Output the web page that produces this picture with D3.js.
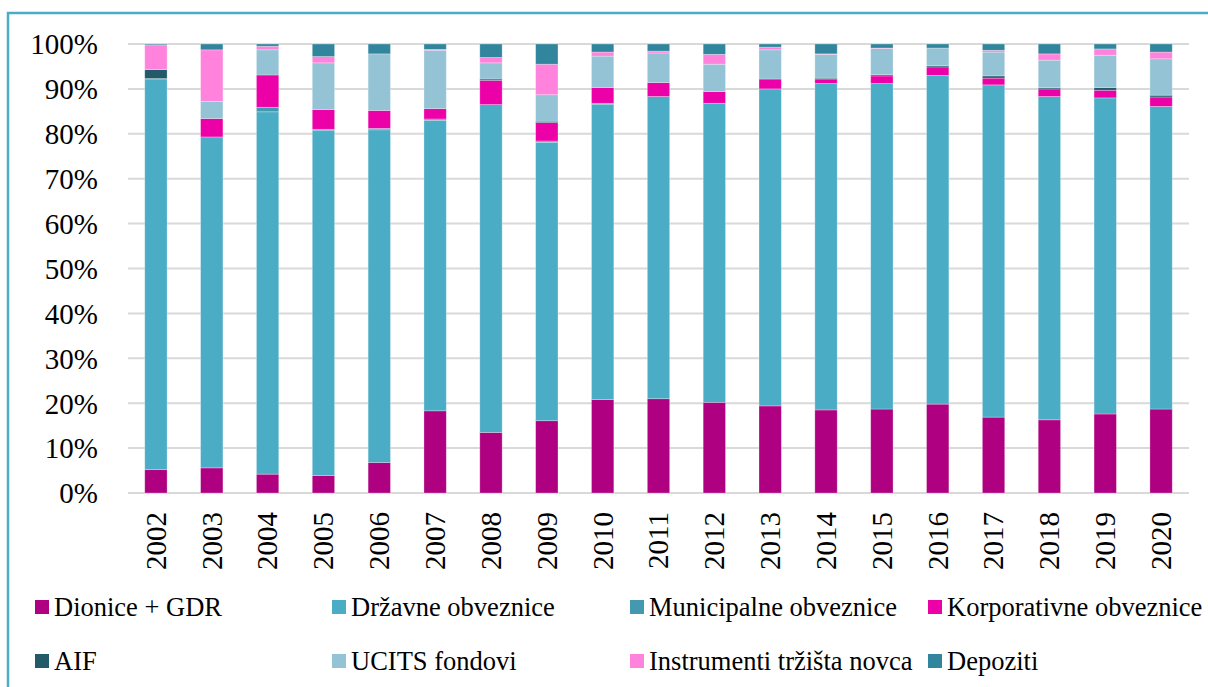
<!DOCTYPE html>
<html>
<head>
<meta charset="utf-8">
<script src="https://cdn.jsdelivr.net/npm/d3@7"></script>
<style>
  body { margin: 0; background: #fff; }
</style>
</head>
<body>
<svg></svg>
<script>
// categories
var years = ["2002","2003","2004","2005","2006","2007","2008","2009","2010","2011",
             "2012","2013","2014","2015","2016","2017","2018","2019","2020"];

// shares in %
var dionice      = [5.2, 5.6, 4.2, 3.9, 6.8, 18.3, 13.5, 16.1, 20.8, 21.0, 20.2, 19.4, 18.5, 18.7, 19.8, 16.9, 16.3, 17.6, 18.7];
var drzavne      = [87.0, 73.7, 80.7, 76.8, 74.1, 64.7, 73.0, 62.0, 65.7, 67.3, 66.6, 70.6, 72.7, 72.5, 73.2, 74.0, 72.0, 70.4, 67.4];
var municipalne  = [0.1, 0, 1.0, 0.3, 0.3, 0.3, 0, 0.3, 0.3, 0, 0, 0, 0, 0, 0, 0, 0, 0, 0];
var korporativne = [0, 4.1, 7.2, 4.4, 4.0, 2.3, 5.4, 4.1, 3.5, 3.1, 2.6, 2.2, 1.0, 1.7, 1.9, 1.5, 1.7, 1.7, 2.1];
var aif          = [2.0, 0, 0, 0, 0, 0, 0.3, 0.3, 0, 0, 0, 0, 0.2, 0.3, 0.3, 0.5, 0.3, 0.6, 0.4];
var ucits        = [0, 3.8, 5.6, 10.4, 12.6, 13.0, 3.6, 5.9, 7.0, 6.6, 6.1, 6.5, 5.3, 5.8, 3.9, 5.3, 6.1, 7.2, 8.1];
var instrumenti  = [5.5, 11.5, 0.8, 1.4, 0, 0.2, 1.2, 6.8, 0.9, 0.4, 2.2, 0.6, 0.1, 0.1, 0, 0.4, 1.4, 1.4, 1.5];
var depoziti     = [0.2, 1.3, 0.5, 2.8, 2.2, 1.2, 3.0, 4.5, 1.8, 1.6, 2.3, 0.7, 2.2, 0.9, 0.9, 1.4, 2.2, 1.1, 1.8];

var seriesNames = ["Dionice + GDR", "Državne obveznice", "Municipalne obveznice", "Korporativne obveznice",
                   "AIF", "UCITS fondovi", "Instrumenti tržišta novca", "Depoziti"];
var seriesColors = ["#AE0080", "#4BACC6", "#4499B0", "#EC00A8", "#235A6A", "#93C3D5", "#FF82DC", "#31869D"];
var yTicks = [0, 10, 20, 30, 40, 50, 60, 70, 80, 90, 100];

var seriesValues = [dionice, drzavne, municipalne, korporativne, aif, ucits, instrumenti, depoziti];

var FONT = "'Liberation Serif', 'Times New Roman', Tinos, 'DejaVu Serif', serif";

// table for d3.stack
var rows = years.map(function (y, i) {
  var r = { year: y };
  seriesNames.forEach(function (s, k) { r[s] = seriesValues[k][i]; });
  return r;
});

var width = 1208, height = 687;
var svg = d3.select("svg").attr("width", width).attr("height", height);

// outer frame
svg.append("rect")
  .attr("x", 8).attr("y", 13)
  .attr("width", 1220).attr("height", 700)
  .attr("fill", "none")
  .attr("stroke", "#4BACC6")
  .attr("stroke-width", 2.5);

var plot = { left: 128, right: 1189, top: 44, bottom: 493 };

var x = d3.scaleBand()
  .domain(years)
  .range([plot.left, plot.right])
  .paddingInner(0.6)
  .paddingOuter(0.3);

var y = d3.scaleLinear()
  .domain([0, 100])
  .range([plot.bottom, plot.top]);

// gridlines
svg.append("g")
  .selectAll("line")
  .data(yTicks)
  .join("line")
  .attr("x1", plot.left).attr("x2", plot.right)
  .attr("y1", d => y(d)).attr("y2", d => y(d))
  .attr("stroke", "#D9D9D9")
  .attr("stroke-width", 2);

// y axis labels
var yAxis = d3.axisLeft(y).tickValues(yTicks).tickSize(0).tickPadding(0)
  .tickFormat(d => d + "%");
svg.append("g")
  .attr("transform", "translate(98,0)")
  .call(yAxis)
  .call(g => g.select(".domain").remove())
  .selectAll("text")
  .style("font-family", FONT)
  .style("font-size", "29px")
  .attr("fill", "#000")
  .attr("dy", "0.34em");

// stacked bars
var stack = d3.stack().keys(seriesNames);
var layers = stack(rows);

svg.append("g")
  .selectAll("g")
  .data(layers)
  .join("g")
  .attr("fill", (d, i) => seriesColors[i])
  .selectAll("rect")
  .data(d => d)
  .join("rect")
  .attr("x", d => x(d.data.year))
  .attr("width", x.bandwidth())
  .attr("y", d => y(d[1]))
  .attr("height", d => Math.max(0, y(d[0]) - y(d[1])))
  .attr("stroke", "#ffffff")
  .attr("stroke-opacity", 0.35)
  .attr("stroke-width", 0.8);

// x axis labels (rotated)
var xAxis = d3.axisBottom(x).tickSize(0).tickPadding(0);
svg.append("g")
  .attr("transform", "translate(0," + plot.bottom + ")")
  .call(xAxis)
  .call(g => g.select(".domain").remove())
  .selectAll("text")
  .style("font-family", FONT)
  .style("font-size", "29px")
  .attr("fill", "#000")
  .attr("text-anchor", "end")
  .attr("transform", "translate(0,19) rotate(-90)")
  .attr("dy", "0.34em")
  .attr("x", 0).attr("y", 0);

// legend, 4 columns x 2 rows
var legendX = [35, 332, 630, 928];
var legendY = [607, 661];
var legend = svg.append("g")
  .selectAll("g")
  .data(seriesNames)
  .join("g")
  .attr("transform", (d, i) => "translate(" + legendX[i % 4] + "," + legendY[Math.floor(i / 4)] + ")");

legend.append("rect")
  .attr("x", 0).attr("y", -7)
  .attr("width", 14).attr("height", 14)
  .attr("fill", (d, i) => seriesColors[i]);

legend.append("text")
  .attr("x", 19)
  .attr("y", 0)
  .attr("dy", "0.34em")
  .style("font-family", FONT)
  .style("font-size", "26.5px")
  .attr("fill", "#000")
  .text(d => d);
</script>
</body>
</html>
